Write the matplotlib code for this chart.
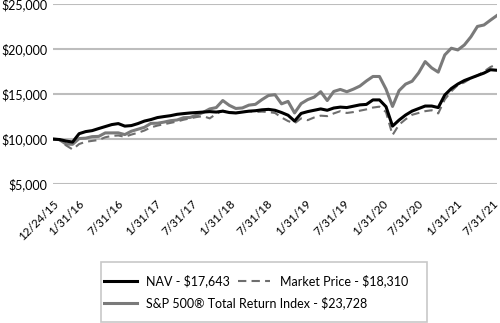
import matplotlib.pyplot as plt
from matplotlib.patches import Rectangle
from matplotlib.lines import Line2D
from matplotlib.transforms import ScaledTranslation

# Growth of $10,000, 12/24/15 then month ends 12/31/15 .. 7/31/21
nav = [10000, 9950, 9780, 9670, 10600, 10830, 10940, 11170, 11390, 11610,
       11720, 11440, 11500, 11720, 12000, 12170, 12390, 12500, 12600, 12750,
       12830, 12900, 12950, 13000, 13050, 13000, 13100, 12950, 12900, 13000,
       13100, 13150, 13250, 13300, 13200, 12950, 12650, 12000, 12850, 13050,
       13200, 13350, 13200, 13450, 13550, 13500, 13650, 13800, 13850, 14350,
       14350, 13600, 11440, 12110, 12670, 13110, 13390, 13670, 13670, 13500,
       14890, 15610, 16110, 16500, 16780, 17060, 17330, 17700, 17643]

market = [10000, 9900, 9300, 8850, 9450, 9700, 9800, 9900, 10200, 10350,
          10400, 10250, 10500, 10700, 10950, 11300, 11500, 11650, 11800, 11950,
          12150, 12300, 12450, 12550, 12300, 12800, 13150, 13000, 12900, 13000,
          13100, 13000, 13050, 13000, 12900, 12400, 12000, 11750, 12300, 12100,
          12400, 12600, 12550, 12850, 13100, 12900, 13000, 13150, 13300, 13500,
          13600, 13000, 10450, 11600, 12200, 12700, 12900, 13100, 13200, 12850,
          14400, 15300, 16000, 16300, 16750, 17050, 17500, 18000, 18310]

sp500 = [10000, 9933, 9444, 9420, 10058, 10101, 10272, 10298, 10682, 10686,
         10690, 10499, 10875, 11091, 11307, 11746, 11761, 11886, 12043, 12121,
         12374, 12402, 12660, 12963, 13347, 13500, 14282, 13747, 13399, 13457,
         13769, 13858, 14381, 14840, 14928, 13914, 14185, 12904, 13942, 14379,
         14660, 15261, 14280, 15288, 15514, 15257, 15544, 15888, 16455, 16952,
         16952, 15551, 13627, 15380, 16102, 16425, 17357, 18604, 17902, 17435,
         19342, 20091, 19899, 20452, 21353, 22509, 22669, 23210, 23728]

tick_pos = [0, 2, 8, 14, 20, 26, 32, 38, 44, 50, 56, 62, 68]
tick_labels = ['12/24/15', '1/31/16', '7/31/16', '1/31/17', '7/31/17', '1/31/18',
               '7/31/18', '1/31/19', '7/31/19', '1/31/20', '7/31/20', '1/31/21',
               '7/31/21']
# horizontal nudge of each tick label (pixels), as laid out in the original
label_nudge = [0, 12, 12, 11, 8, 7, 5, 4, 3, 2.5, -1, -1, -4]

plt.rcParams['font.family'] = ['Lato', 'DejaVu Sans']

fig = plt.figure(figsize=(5, 3.23), dpi=100)
ax = fig.add_axes([0.106, 0.43, 0.888, 0.5576])

x = range(len(nav))
ax.plot(x, sp500, color='#7a7a7a', lw=2.2)
ax.plot(x, market, color='#6e6e6e', lw=1.5, ls=(0, (4, 2.5)))
ax.plot(x, nav, color='black', lw=2.2)

ax.set_xlim(0, 68)
ax.set_ylim(5000, 25000)
ax.set_yticks(range(5000, 25001, 5000))
ax.set_yticklabels([f'${v:,}' for v in range(5000, 25001, 5000)], fontsize=9)
ax.set_xticks(tick_pos)
ax.set_xticklabels(tick_labels, rotation=45, ha='right', rotation_mode='anchor', fontsize=8.5)
ax.tick_params(axis='y', length=0, pad=4)
ax.tick_params(axis='x', length=0, pad=10)
for lab, dx in zip(ax.get_xticklabels(), label_nudge):
    lab.set_transform(lab.get_transform() + ScaledTranslation(dx / 100, 0, fig.dpi_scale_trans))
ax.grid(axis='y', color='#bdbdbd', lw=1.5)
ax.set_axisbelow(True)
for s in ax.spines.values():
    s.set_visible(False)

# legend: box with two rows
fig.patches.append(Rectangle((101 / 500, 1 / 323), 326 / 500, 60 / 323,
                             transform=fig.transFigure, fill=False,
                             edgecolor='#c8c8c8', lw=1.2))
h_nav = Line2D([], [], color='black', lw=2.2)
h_mkt = Line2D([], [], color='#6e6e6e', lw=1.5, ls=(0, (4, 2.5)))
h_sp = Line2D([], [], color='#7a7a7a', lw=2.2)
fig.legend([h_nav, h_mkt], ['NAV - $17,643', 'Market Price - $18,310'],
           loc='center left', bbox_to_anchor=(104 / 500, 1 - 281 / 323), ncol=2,
           frameon=False, fontsize=9, handlelength=2.6, columnspacing=0.6,
           handletextpad=0.8, borderpad=0, borderaxespad=0)
fig.legend([h_sp], ['S&P 500® Total Return Index - $23,728'],
           loc='center left', bbox_to_anchor=(104 / 500, 1 - 303 / 323),
           frameon=False, fontsize=9, handlelength=2.6,
           handletextpad=0.8, borderpad=0, borderaxespad=0)

fig.savefig('out.png', dpi=100)
